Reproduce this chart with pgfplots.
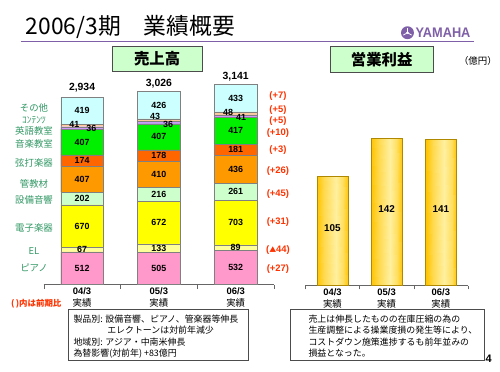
\documentclass[border=0pt]{standalone}
\usepackage{pgfplots}
\pgfplotsset{compat=1.18}
\usepackage{pgfplotstable}
\usepackage{fontspec}
\setmainfont{Noto Sans CJK JP}
\newfontfamily\cjk{Noto Sans CJK JP}
\newfontfamily\arial{Liberation Sans}
\newcommand\tri{{\cjk\fontsize{7}{8}\selectfont ▲}}
\definecolor{cPiano}{HTML}{FF99CC}
\definecolor{cEL}{HTML}{FFFF99}
\definecolor{cDenshi}{HTML}{FFFF00}
\definecolor{cSetsubi}{HTML}{CCFFCC}
\definecolor{cKan}{HTML}{FF9900}
\definecolor{cGen}{HTML}{FF6600}
\definecolor{cOngaku}{HTML}{00F000}
\definecolor{cEigo}{HTML}{CC99FF}
\definecolor{cContent}{HTML}{FFCC99}
\definecolor{cOther}{HTML}{CCFFFF}
\definecolor{cEdge}{HTML}{808080}
\definecolor{cTeal}{HTML}{339966}
\definecolor{cRed}{HTML}{FF3300}
\definecolor{cPurple}{HTML}{7F5FA8}
\definecolor{cGold}{HTML}{FFC400}
\definecolor{cGoldLight}{HTML}{FFF0A0}
\definecolor{cGoldEdge}{HTML}{B08800}
\definecolor{cBoxGreen}{HTML}{CCFFCC}

\pgfplotstableread{
x piano el denshi setsubi kan gen ongaku eigo content other
0 512 67 670 202 407 174 407 36 41 419
1 505 133 672 216 410 178 407 36 43 426
2 532 89 703 261 436 181 417 41 48 433
}\salesdata

\pgfplotstableread{
x y lab
0 256 512
0 545.5 67
0 914 670
0 1350 202
0 1654.5 407
0 1945 174
0 2235.5 407
0.12 2442 36
-0.1 2519 41
0 2725 419
1 252.5 505
1 571.5 133
1 974 672
1 1418 216
1 1731 410
1 2025 178
1 2317.5 407
1.12 2519 36
0.95 2633 43
1 2813 426
2 266 532
2 576.5 89
2 972.5 703
2 1454.5 261
2 1803 436
2 2111.5 181
2 2410.5 417
2.07 2628 41
1.9 2706 48
2 2924.5 433
}\seglabels

\pgfplotstableread{
x y lab
0 3080 2,934
1 3157 3,026
2 3265 3,141
}\totals

\pgfplotstableread{
x y lab
2.55 2955 (+7)
2.55 2737 (+5)
2.55 2566 (+5)
2.55 2379 (+10)
2.55 2115 (+3)
2.55 1773 (+26)
2.55 1415 (+45)
2.55 980 (+31)
2.55 544 (\tri44)
2.55 249 (+27)
}\changes

\pgfplotstableread{
x y lab
-0.625 2768 その他
-0.625 2582 ｺﾝﾃﾝﾂ
-0.625 2411 英語教室
-0.625 2208 音楽教室
-0.625 1913 弦打楽器
-0.625 1586 管教材
-0.625 1322 設備音響
-0.625 886 電子楽器
-0.625 529 EL
-0.625 264 ピアノ
}\cats

\pgfplotstableread{
x y lab
0 51.5 105
1 70 142
2 70 141
}\oplabels

% operating profit: 105 (04/3), 142 (05/3), 141 (06/3); gradient meshes across bar width 0.566
\pgfplotstableread{
x y c
-0.283 0 0
-0.15 0 0.5
0.06 0 1
0.2 0 0.6
0.283 0 0.05
-0.283 105 0
-0.15 105 0.5
0.06 105 1
0.2 105 0.6
0.283 105 0.05
}\opA
\pgfplotstableread{
x y c
0.717 0 0
0.85 0 0.5
1.06 0 1
1.2 0 0.6
1.283 0 0.05
0.717 142 0
0.85 142 0.5
1.06 142 1
1.2 142 0.6
1.283 142 0.05
}\opB
\pgfplotstableread{
x y c
1.717 0 0
1.85 0 0.5
2.06 0 1
2.2 0 0.6
2.283 0 0.05
1.717 141 0
1.85 141 0.5
2.06 141 1
2.2 141 0.6
2.283 141 0.05
}\opC

\begin{document}
\begin{tikzpicture}[x=1pt,y=1pt]
\fill[white] (0,0) rectangle (500,-375);

% title
\node[anchor=base west, inner sep=0pt, font=\fontsize{23}{26}\selectfont] at (26,-35) {2006/3期\quad 業績概要};
\draw[cPurple, line width=1.5pt] (21,-42) -- (478,-42);
% logo
\fill[cPurple] (411,-33) circle (6.5);
\foreach \a in {90,210,330} {\draw[white, line width=0.8pt] (411,-33) -- ++(\a:4.8);}
\fill[white] (411,-33) circle (1.3);
\node[anchor=west, inner sep=0pt, text=cPurple, font=\arial\bfseries\fontsize{14}{15}\selectfont, xscale=0.92] at (419,-33) {YAMAHA};

% header boxes
\draw[fill=cBoxGreen, draw=black!70] (113,-47) rectangle (204,-72);
\node[font=\bfseries\fontsize{15.5}{17}\selectfont] at (158.5,-59.5) {売上高};
\draw[fill=cBoxGreen, draw=black!70] (333,-47) rectangle (437,-73);
\node[font=\bfseries\fontsize{15.5}{17}\selectfont] at (385,-60) {営業利益};
\node[font=\fontsize{9.5}{11}\selectfont] at (482,-61) {（億円）};

% left stacked chart
\begin{axis}[
  scale only axis, width=232.5pt, height=220pt,
  at={(44pt,-287pt)}, anchor=south west,
  xmin=-0.5, xmax=2.5, ymin=0, ymax=3421,
  ybar stacked, bar width=0.555,
  axis x line*=bottom, axis y line=none,
  axis line style={black!60},
  xtick={0,1,2},
  xticklabels={{{\arial\bfseries 04/3}\\実績},{{\arial\bfseries 05/3}\\実績},{{\arial\bfseries 06/3}\\実績}},
  xticklabel style={align=center, font=\fontsize{9.5}{12}\selectfont},
  major tick length=0pt,
  extra x ticks={-0.5,0.5,1.5,2.5},
  extra x tick labels={},
  extra x tick style={major tick length=4pt, tick align=outside, tick style={black!60}},
  clip=false,
]
\addplot[fill=cPiano, draw=cEdge] table[x=x,y=piano]{\salesdata};
\addplot[fill=cEL, draw=cEdge] table[x=x,y=el]{\salesdata};
\addplot[fill=cDenshi, draw=cEdge] table[x=x,y=denshi]{\salesdata};
\addplot[fill=cSetsubi, draw=cEdge] table[x=x,y=setsubi]{\salesdata};
\addplot[fill=cKan, draw=cEdge] table[x=x,y=kan]{\salesdata};
\addplot[fill=cGen, draw=cEdge] table[x=x,y=gen]{\salesdata};
\addplot[fill=cOngaku, draw=cEdge] table[x=x,y=ongaku]{\salesdata};
\addplot[fill=cEigo, draw=cEdge] table[x=x,y=eigo]{\salesdata};
\addplot[fill=cContent, draw=cEdge] table[x=x,y=content]{\salesdata};
\addplot[fill=cOther, draw=cEdge] table[x=x,y=other]{\salesdata};
\end{axis}

% label overlay
\begin{axis}[
  scale only axis, width=232.5pt, height=220pt,
  at={(44pt,-287pt)}, anchor=south west,
  xmin=-0.5, xmax=2.5, ymin=0, ymax=3421,
  hide axis, clip=false,
  nodes near coords align=center,
]
\addplot[draw=none, mark=none, nodes near coords, point meta=explicit symbolic,
  every node near coord/.append style={inner sep=0pt, font=\arial\bfseries\fontsize{9}{10}\selectfont}]
  table[x=x,y=y,meta=lab]{\seglabels};
\addplot[draw=none, mark=none, nodes near coords, point meta=explicit symbolic,
  every node near coord/.append style={inner sep=0pt, font=\arial\bfseries\fontsize{10.5}{12}\selectfont}]
  table[x=x,y=y,meta=lab]{\totals};
\addplot[draw=none, mark=none, nodes near coords, point meta=explicit symbolic,
  every node near coord/.append style={inner sep=0pt, text=cRed, font=\arial\bfseries\fontsize{9.5}{11}\selectfont}]
  table[x=x,y=y,meta=lab]{\changes};
\addplot[draw=none, mark=none, nodes near coords, point meta=explicit symbolic,
  every node near coord/.append style={inner sep=0pt, text=cTeal, font=\fontsize{9.5}{11}\selectfont}]
  table[x=x,y=y,meta=lab]{\cats};
\end{axis}

% right chart
\begin{axis}[
  scale only axis, width=164pt, height=200pt,
  at={(308pt,-288pt)}, anchor=south west,
  xmin=-0.5, xmax=2.5, ymin=0, ymax=190.8,
  axis x line*=bottom, axis y line=none,
  axis line style={black!60},
  xtick={0,1,2},
  xticklabels={{{\arial\bfseries 04/3}\\実績},{{\arial\bfseries 05/3}\\実績},{{\arial\bfseries 06/3}\\実績}},
  xticklabel style={align=center, font=\fontsize{9.5}{12}\selectfont},
  major tick length=0pt,
  extra x ticks={-0.5,0.5,1.5,2.5},
  extra x tick labels={},
  extra x tick style={major tick length=4pt, tick align=outside, tick style={black!60}},
  clip=false,
  colormap={goldmap}{color(0)=(cGold) color(1)=(cGoldLight)},
  point meta min=0, point meta max=1,
]
\addplot[surf, shader=interp, mesh/cols=5, point meta=explicit] table[x=x,y=y,meta=c]{\opA};
\addplot[surf, shader=interp, mesh/cols=5, point meta=explicit] table[x=x,y=y,meta=c]{\opB};
\addplot[surf, shader=interp, mesh/cols=5, point meta=explicit] table[x=x,y=y,meta=c]{\opC};
\addplot[draw=cGoldEdge, fill=none] coordinates {(-0.283,0) (-0.283,105) (0.283,105) (0.283,0)} --cycle;
\addplot[draw=cGoldEdge, fill=none] coordinates {(0.717,0) (0.717,142) (1.283,142) (1.283,0)} --cycle;
\addplot[draw=cGoldEdge, fill=none] coordinates {(1.717,0) (1.717,141) (2.283,141) (2.283,0)} --cycle;
\addplot[draw=none, mark=none, nodes near coords, point meta=explicit symbolic,
  every node near coord/.append style={inner sep=0pt, font=\arial\bfseries\fontsize{10}{11}\selectfont}]
  table[x=x,y=y,meta=lab]{\oplabels};
\end{axis}

% note
\node[anchor=west, inner sep=0pt, text=cRed, font=\bfseries\fontsize{8.5}{10}\selectfont] at (11,-306) {(\,)内は前期比};

% bottom boxes
\draw[black!70] (69,-312) rectangle (250,-363);
\begin{scope}[every node/.style={anchor=base west, inner sep=0pt, font=\fontsize{9}{10}\selectfont}]
\node at (74,-325.5) {製品別: 設備音響、ピアノ、管楽器等伸長};
\node at (108,-336.5) {エレクトーンは対前年減少};
\node at (74,-348.5) {地域別: アジア・中南米伸長};
\node at (74,-359.5) {為替影響(対前年) +83億円};
\end{scope}
\draw[black!70] (293,-312) rectangle (488,-363);
\begin{scope}[every node/.style={anchor=base west, inner sep=0pt, font=\fontsize{9}{10}\selectfont}]
\node at (311,-325.5) {売上は伸長したものの在庫圧縮の為の};
\node at (311,-336.5) {生産調整による操業度損の発生等により、};
\node at (311,-348.5) {コストダウン施策進捗するも前年並みの};
\node at (311,-359.5) {損益となった。};
\end{scope}
\node[anchor=base, inner sep=0pt, font=\arial\bfseries\fontsize{11}{12}\selectfont] at (493,-366) {4};
\end{tikzpicture}
\end{document}
